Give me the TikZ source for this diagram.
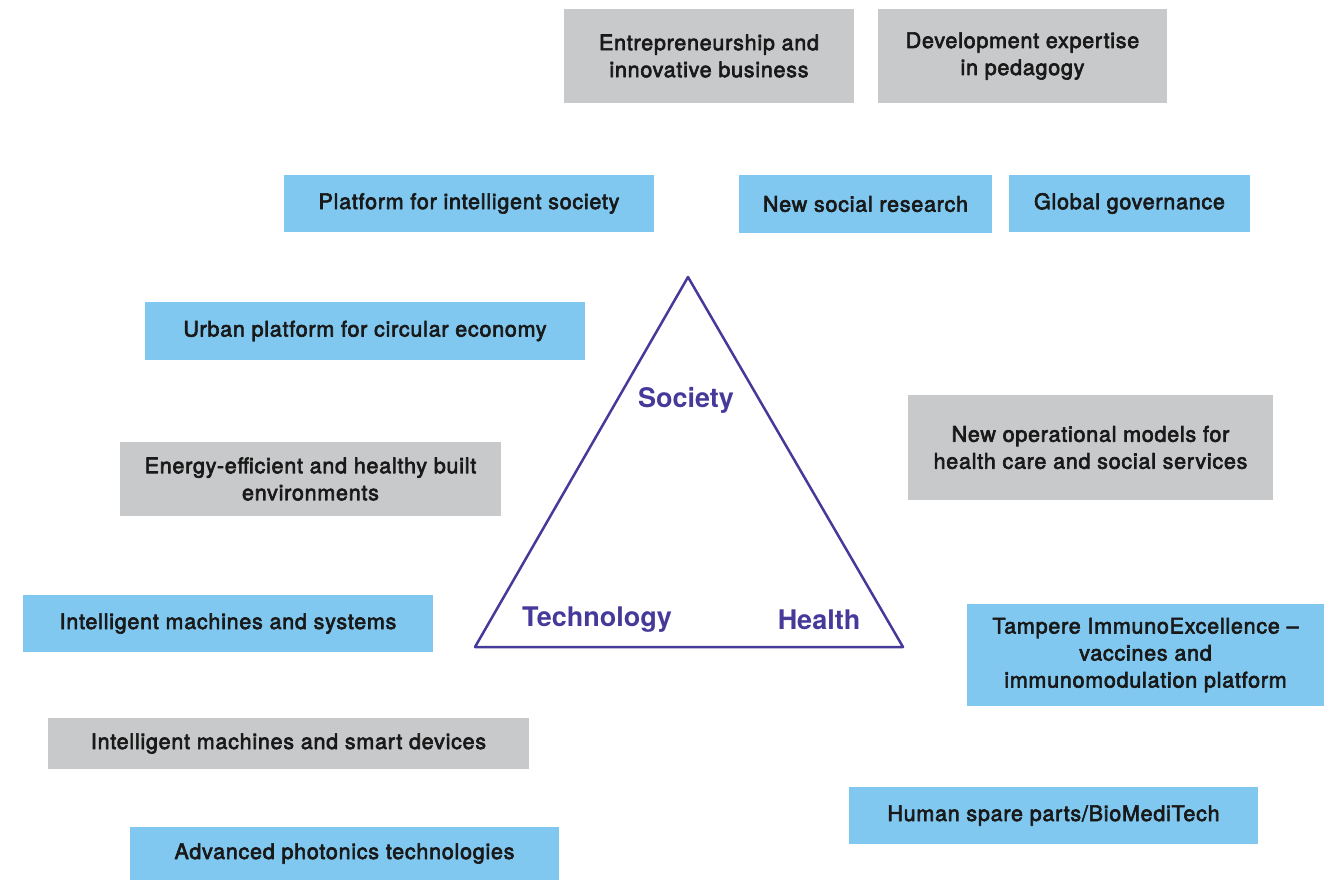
\documentclass[tikz,border=0pt]{standalone}
\usepackage{fontspec}
\setmainfont{TeX Gyre Heros}
\newfontfamily\boxfont{TeX Gyre Heros}[FakeBold=3, LetterSpace=3.5]
\definecolor{boxblue}{HTML}{80C8EF}
\definecolor{boxgray}{HTML}{C8C9CB}
\definecolor{tripurple}{HTML}{45399A}
\tikzset{
  box/.style={inner sep=0pt, align=center, text=black!90,
    font=\boxfont\fontsize{21.5}{27}\selectfont},
  bluebox/.style={box, fill=boxblue},
  graybox/.style={box, fill=boxgray},
  corner/.style={text=tripurple, font=\bfseries\fontsize{27}{30}\selectfont}
}
\begin{document}
\begin{tikzpicture}[x=1pt, y=-1pt, line join=round]
  \useasboundingbox (0,0) rectangle (1335,880);
  % upper row
  \node[graybox, minimum width=290, minimum height=94] (entre) at (709,56) {Entrepreneurship and\\innovative business};
  \node[graybox, minimum width=289, minimum height=94] (pedag) at (1022.5,56) {Development expertise\\in pedagogy};
  \node[bluebox, minimum width=370, minimum height=57] (platf) at (469,203.5) {Platform for intelligent society};
  \node[bluebox, minimum width=253, minimum height=58] (social) at (865.5,204) {New social research};
  \node[bluebox, minimum width=241, minimum height=57] (govern) at (1129.5,203.5) {Global governance};
  % left side
  \node[bluebox, minimum width=440, minimum height=58] (urban) at (365,331) {Urban platform for circular economy};
  \node[graybox, minimum width=381, minimum height=74] (energy) at (310.5,479) {Energy-efficient and healthy built\\environments};
  \node[bluebox, minimum width=410, minimum height=57] (machsys) at (228,623.5) {Intelligent machines and systems};
  \node[graybox, minimum width=481, minimum height=51] (machdev) at (288.5,743.5) {Intelligent machines and smart devices};
  \node[bluebox, minimum width=429, minimum height=53] (photon) at (344.5,853.5) {Advanced photonics technologies};
  % right side
  \node[graybox, minimum width=365, minimum height=105] (operat) at (1090.5,447.5) {New operational models for\\health care and social services};
  \node[bluebox, minimum width=357, minimum height=102] (immuno) at (1145.5,655) {Tampere ImmunoExcellence \textendash\\vaccines and\\immunomodulation platform};
  \node[bluebox, minimum width=409, minimum height=57] (spare) at (1053.5,815.5) {Human spare parts/BioMediTech};
  % triangle
  \coordinate (top) at (688,277);
  \coordinate (left) at (475,647);
  \coordinate (right) at (903,647);
  \draw[tripurple, line width=2.5pt] (top) -- (left) -- (right) -- cycle;
  \node[corner] (society) at (686,400) {Society};
  \node[corner] (technology) at (597,620) {Technology};
  \node[corner] (health) at (819,620) {Health};
\end{tikzpicture}
\end{document}
